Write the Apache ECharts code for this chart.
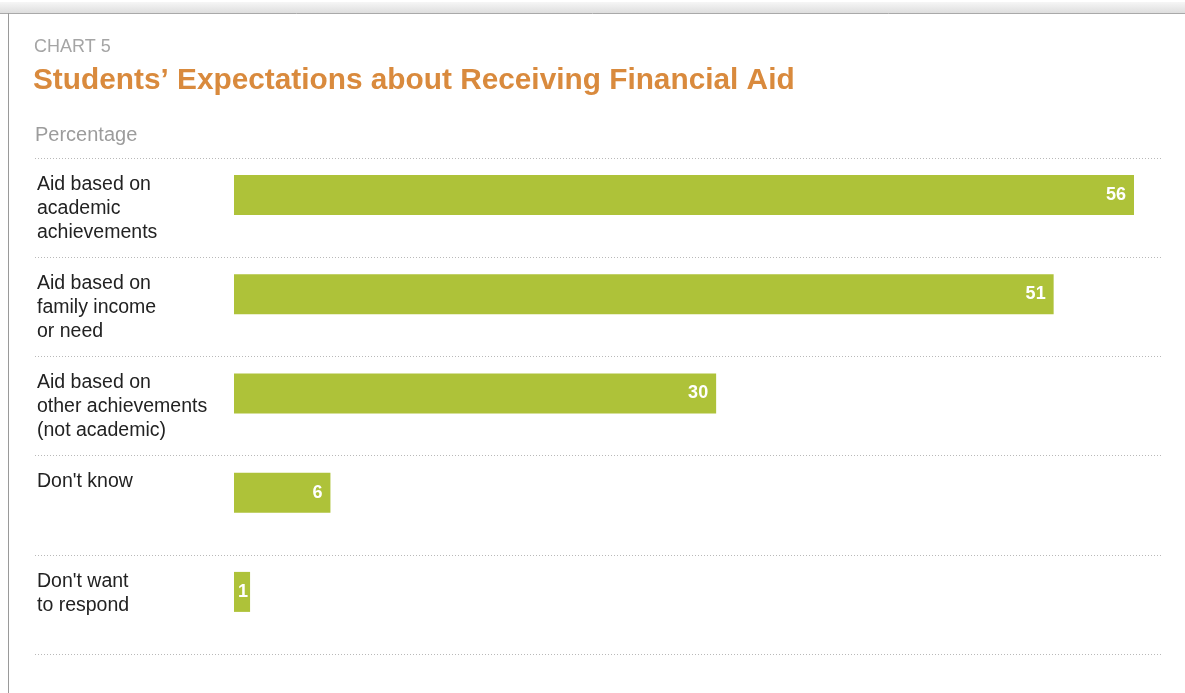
<!DOCTYPE html>
<html>
<head>
<meta charset="utf-8">
<script src="https://cdn.jsdelivr.net/npm/echarts@6/dist/echarts.min.js"></script>
<style>
  html, body { margin: 0; padding: 0; background: #ffffff; }
  #chart { width: 1185px; height: 693px; }
</style>
</head>
<body>
<div id="chart"></div>
<script>
// Survey answers, top to bottom
const categories = [
  'Aid based on\nacademic\nachievements',
  'Aid based on\nfamily income\nor need',
  'Aid based on\nother achievements\n(not academic)',
  "Don't know",
  "Don't want\nto respond"
];
// Share of students, percent
const values = [56, 51, 30, 6, 1];
const axisMax = 56;

const FONT = '"Liberation Sans", Arial, Helvetica, sans-serif';
const BAR_COLOR = '#aec239';

const chart = echarts.init(document.getElementById('chart'), null, { renderer: 'canvas' });

const option = {
  backgroundColor: '#ffffff',
  animation: false,
  title: [
    {
      text: 'CHART 5', left: 34, top: 38, padding: 0,
      textStyle: { fontFamily: FONT, fontSize: 18, fontWeight: 'normal', color: '#a5a5a5' }
    },
    {
      text: 'Students\u2019 Expectations about Receiving Financial Aid', left: 33, top: 66, padding: 0,
      textStyle: { fontFamily: FONT, fontSize: 29.8, fontWeight: 'bold', color: '#d98a3d' }
    },
    {
      text: 'Percentage', left: 35, top: 125, padding: 0,
      textStyle: { fontFamily: FONT, fontSize: 20, fontWeight: 'normal', color: '#9c9c9c' }
    }
  ],
  // page frame: shaded strip on top, thin rule on the left
  graphic: [
    {
      type: 'rect', left: 0, top: 2, silent: true,
      shape: { width: 1185, height: 11 },
      style: {
        fill: new echarts.graphic.LinearGradient(0, 0, 0, 1, [
          { offset: 0, color: '#f6f6f6' },
          { offset: 1, color: '#dedede' }
        ])
      }
    },
    {
      type: 'line', silent: true,
      shape: { x1: 0, y1: 13.5, x2: 1185, y2: 13.5 },
      style: { stroke: '#a9a9a9', lineWidth: 1 }
    },
    {
      type: 'line', silent: true,
      shape: { x1: 8.5, y1: 13, x2: 8.5, y2: 693 },
      style: { stroke: '#9a9a9a', lineWidth: 1 }
    }
  ],
  grid: [
    // bars
    { left: 234, right: 51, top: 145.5, height: 496, containLabel: false },
    // row separators and row captions
    { left: 35, right: 23, top: 158, height: 496, containLabel: false }
  ],
  xAxis: [
    { type: 'value', gridIndex: 0, min: 0, max: axisMax, show: false },
    { type: 'value', gridIndex: 1, min: 0, max: 1, show: false }
  ],
  yAxis: [
    {
      type: 'category', gridIndex: 0, data: categories, inverse: true,
      axisLine: { show: false }, axisTick: { show: false },
      axisLabel: { show: false }, splitLine: { show: false }
    },
    {
      type: 'category', gridIndex: 1, data: categories.concat(['']), inverse: true,
      boundaryGap: false,
      axisLine: { show: false }, axisTick: { show: false },
      axisLabel: {
        show: true, inside: true, interval: 0, margin: 2,
        align: 'left', verticalAlign: 'top', padding: [14.5, 0, 0, 0],
        fontFamily: FONT, fontSize: 19.5, lineHeight: 24, color: '#222222'
      },
      splitLine: {
        show: true, interval: 0,
        lineStyle: { color: '#b9b9b9', width: 1, type: [1, 2] }
      }
    }
  ],
  series: [
    {
      type: 'bar',
      xAxisIndex: 0, yAxisIndex: 0,
      data: values.map(v => v < 3 ? { value: v, label: { distance: 2 } } : v),
      barWidth: 40,
      itemStyle: { color: BAR_COLOR },
      label: {
        show: true, position: 'insideRight', distance: 8,
        color: '#ffffff', fontFamily: FONT, fontSize: 18, fontWeight: 'bold'
      },
      silent: true
    }
  ]
};

chart.setOption(option);
</script>
</body>
</html>
